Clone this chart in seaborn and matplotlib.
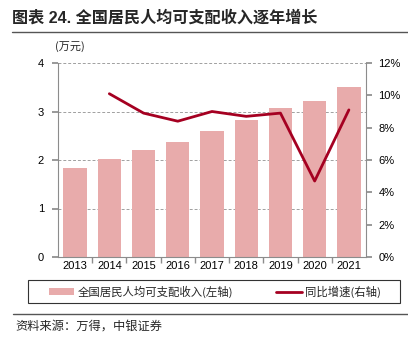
import numpy as np
import matplotlib
matplotlib.use("Agg")
import matplotlib.pyplot as plt
import seaborn as sns
import pandas as pd
from matplotlib.lines import Line2D
from matplotlib.patches import Patch, Rectangle

years = ["2013", "2014", "2015", "2016", "2017", "2018", "2019", "2020", "2021"]
income = [1.83, 2.02, 2.20, 2.38, 2.60, 2.82, 3.07, 3.22, 3.51]  # 万元
growth_years = ["2014", "2015", "2016", "2017", "2018", "2019", "2020", "2021"]
growth = [10.1, 8.9, 8.4, 9.0, 8.7, 8.9, 4.7, 9.1]  # %
left_ticks = [0, 1, 2, 3, 4]
right_ticks = [0, 2, 4, 6, 8, 10, 12]

title = "图表 24. 全国居民人均可支配收入逐年增长"
unit = "(万元)"
bar_label = "全国居民人均可支配收入(左轴)"
line_label = "同比增速(右轴)"
source = "资料来源：万得，中银证券"

sns.set_theme(style="white")
plt.rcParams["font.family"] = ["Liberation Sans", "Noto Sans CJK SC", "DejaVu Sans"]

bar_color = "#E8ABAB"
line_color = "#A50021"
gray = "#8C8C8C"

W, H = 408, 347
fig = plt.figure(figsize=(W / 100, H / 100), dpi=100)
ax = fig.add_axes([58 / W, 1 - 257 / H, (366 - 58) / W, (257 - 63) / H])

df = pd.DataFrame({"year": years, "income": income})
sns.barplot(data=df, x="year", y="income", ax=ax, color=bar_color,
            width=0.68, saturation=1, edgecolor="none")
ax.set_xlim(-0.5, len(years) - 0.5)
ax.set_ylim(0, 4)
ax.set_yticks(left_ticks)
ax.set_xlabel("")
ax.set_ylabel("")
for y in left_ticks[1:]:
    ax.axhline(y, color="#A0A0A0", lw=0.7, ls=(0, (3, 2)), zorder=0)
ax.set_axisbelow(True)

ax2 = ax.twinx()
gdf = pd.DataFrame({"x": [years.index(y) for y in growth_years], "g": growth})
sns.lineplot(data=gdf, x="x", y="g", ax=ax2, color=line_color, lw=2.0)
ax2.set_ylim(0, 12)
ax2.set_yticks(right_ticks)
ax2.set_yticklabels([f"{t}%" for t in right_ticks])
ax2.set_xlim(-0.5, len(years) - 0.5)
ax2.set_ylabel("")
ax2.set_xlabel("")

for a in (ax, ax2):
    for s in a.spines.values():
        s.set_visible(False)
ax.spines["left"].set_visible(True)
ax.spines["bottom"].set_visible(True)
ax2.spines["right"].set_visible(True)
for s in (ax.spines["left"], ax.spines["bottom"], ax2.spines["right"]):
    s.set_color(gray)
    s.set_linewidth(0.8)

ax.tick_params(axis="y", which="major", left=True, length=4, color=gray,
               labelsize=8, pad=6, labelcolor="black")
ax2.tick_params(axis="y", which="major", right=True, length=4, color=gray,
                labelsize=8, pad=5, labelcolor="black")
ax.set_xticks(np.arange(len(years)))
ax.set_xticklabels(years)
ax.tick_params(axis="x", which="major", bottom=False, length=0, labelsize=8,
               pad=3, labelcolor="black")
ax.set_xticks(np.arange(len(years) - 1) + 0.5, minor=True)
ax.tick_params(axis="x", which="minor", bottom=True, length=4, color=gray)

# title and separators
fig.text(12 / W, 1 - 18 / H, title, fontsize=11.6, fontweight="bold",
         ha="left", va="center", family=["Liberation Sans", "Noto Sans CJK SC"])
fig.add_artist(Line2D([12 / W, 1], [1 - 32 / H] * 2, color="#555555", lw=1.0))
fig.text(55 / W, 1 - 47 / H, unit, fontsize=8, ha="left", va="center",
         family=["Noto Sans CJK SC", "DejaVu Sans"])

# legend box
fig.add_artist(Rectangle((28 / W, 1 - 303 / H), (400 - 28) / W, 23 / H,
                         transform=fig.transFigure, fill=False,
                         edgecolor="#333333", lw=0.8))
handles = [Patch(facecolor=bar_color, edgecolor="none", label=bar_label),
           Line2D([0], [0], color=line_color, lw=2.0, label=line_label)]
fig.legend(handles=handles, loc="center", bbox_to_anchor=(215 / W, 1 - 291.5 / H),
           ncol=2, frameon=False, handlelength=2.2,
           handleheight=0.6, handletextpad=0.3, columnspacing=3.8,
           prop={"family": ["Noto Sans CJK SC", "DejaVu Sans"], "size": 8.2})
fig.add_artist(Line2D([13 / W, 1], [1 - 314 / H] * 2, color="#555555", lw=1.0))
fig.text(15 / W, 1 - 326 / H, source, fontsize=8.8, style="italic",
         ha="left", va="center", family=["Noto Sans CJK SC", "DejaVu Sans"])

fig.savefig("out.png", dpi=100)
